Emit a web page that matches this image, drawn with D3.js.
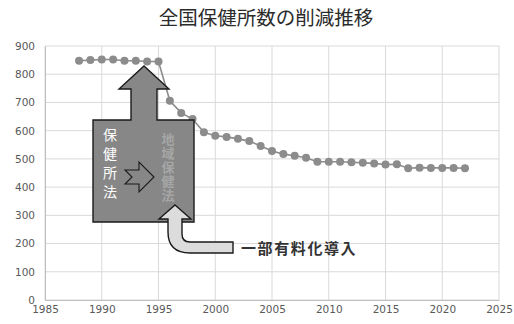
<!DOCTYPE html>
<html>
<head>
<meta charset="utf-8">
<script src="https://cdn.jsdelivr.net/npm/d3@7"></script>
<style>
  html, body { margin: 0; padding: 0; background: #fff; }
  svg text { font-family: "Noto Sans CJK JP", "Noto Sans", sans-serif; }
</style>
</head>
<body>
<svg id="chart" width="514" height="324"></svg>
<script>
// 全国の保健所数（年次）
const years = [1988, 1989, 1990, 1991, 1992, 1993, 1994, 1995, 1996, 1997,
               1998, 1999, 2000, 2001, 2002, 2003, 2004, 2005, 2006, 2007,
               2008, 2009, 2010, 2011, 2012, 2013, 2014, 2015, 2016, 2017,
               2018, 2019, 2020, 2021, 2022];
const counts = [848, 850, 852, 852, 848, 848, 845, 845, 706, 663,
                641, 594, 582, 578, 571, 563, 546, 528, 517, 511,
                504, 490, 490, 490, 488, 486, 484, 480, 481, 467,
                469, 468, 468, 468, 467];
const xTicks = [1985, 1990, 1995, 2000, 2005, 2010, 2015, 2020, 2025];
const yTicks = [0, 100, 200, 300, 400, 500, 600, 700, 800, 900];
const title = "全国保健所数の削減推移";
const oldLaw = "保健所法";
const newLaw = "地域保健法";
const feeNote = "一部有料化導入";

const svg = d3.select("#chart");
const W = 514, H = 324;
const m = { left: 45, right: 15, top: 46, bottom: 24 };

const x = d3.scaleLinear().domain([1985, 2025]).range([m.left, W - m.right]);
const y = d3.scaleLinear().domain([0, 900]).range([H - m.bottom, m.top]);

// title
svg.append("text")
  .attr("x", 266).attr("y", 25)
  .attr("text-anchor", "middle")
  .attr("font-size", 19.5)
  .attr("fill", "#2b2b2b")
  .text(title);

// gridlines
const grid = svg.append("g");
grid.selectAll("line.h").data(yTicks).join("line")
  .attr("x1", x(1985)).attr("x2", x(2025))
  .attr("y1", d => y(d)).attr("y2", d => y(d))
  .attr("stroke", "#d9d9d9").attr("stroke-width", 1);
grid.selectAll("line.v").data(xTicks).join("line")
  .attr("x1", d => x(d)).attr("x2", d => x(d))
  .attr("y1", y(0)).attr("y2", y(900))
  .attr("stroke", "#d9d9d9").attr("stroke-width", 1);

// axes
const yAxis = svg.append("g")
  .attr("transform", `translate(${x(1985)},0)`)
  .call(d3.axisLeft(y).tickValues(yTicks).tickSize(0).tickPadding(10));
const xAxis = svg.append("g")
  .attr("transform", `translate(0,${y(0)})`)
  .call(d3.axisBottom(x).tickValues(xTicks).tickFormat(d3.format("d")).tickSize(0).tickPadding(6));
[yAxis, xAxis].forEach(g => {
  g.select(".domain").attr("stroke", "#bfbfbf");
  g.selectAll("text")
    .attr("fill", "#595959")
    .style("font-family", "'DejaVu Sans', sans-serif")
    .style("font-size", "10.5px");
});

// series line + markers
const pts = years.map((yr, i) => [yr, counts[i]]);
svg.append("path")
  .datum(pts)
  .attr("fill", "none")
  .attr("stroke", "#8c8c8c")
  .attr("stroke-width", 1.6)
  .attr("d", d3.line().x(d => x(d[0])).y(d => y(d[1])));
svg.append("g").selectAll("circle").data(pts).join("circle")
  .attr("cx", d => x(d[0])).attr("cy", d => y(d[1]))
  .attr("r", 4)
  .attr("fill", "#8c8c8c");

// annotation: box with upward arrow (law in force)
const ann = svg.append("g");
ann.append("path")
  .attr("d", "M93,120 L131,120 L131,89 L119,89 L144,66 L169,89 L157,89 L157,120 L194,120 L194,222 L93,222 Z")
  .attr("fill", "#878787")
  .attr("stroke", "#1a1a1a")
  .attr("stroke-width", 1.4)
  .attr("stroke-linejoin", "miter");

// notched arrow between the two laws
ann.append("path")
  .attr("d", "M125,170 L139,170 L139,162 L154,177 L139,192 L139,184 L125,184 L132,177 Z")
  .attr("fill", "#878787")
  .attr("stroke", "#1a1a1a")
  .attr("stroke-width", 1.1);

// vertical law names
ann.append("text")
  .attr("x", 110).attr("y", 128)
  .style("writing-mode", "vertical-rl")
  .style("text-orientation", "upright")
  .attr("font-size", 14)
  .attr("letter-spacing", 5)
  .attr("fill", "#ffffff")
  .text(oldLaw);
ann.append("text")
  .attr("x", 168).attr("y", 133)
  .style("writing-mode", "vertical-rl")
  .style("text-orientation", "upright")
  .attr("font-size", 13)
  .attr("font-weight", "bold")
  .attr("letter-spacing", 1)
  .attr("fill", "#a6a6a6")
  .text(newLaw);

// bent arrow pointing up into the box
ann.append("path")
  .attr("d", "M175,205 L191,219 L182,219 L182,234 Q182,242 190,242 L233,242 L233,253 L190,253 Q168,253 168,232 L168,219 L159,219 Z")
  .attr("fill", "#dcdcdc")
  .attr("stroke", "#1a1a1a")
  .attr("stroke-width", 1.4)
  .attr("stroke-linejoin", "miter");

ann.append("text")
  .attr("x", 241).attr("y", 254)
  .attr("font-size", 15)
  .attr("font-weight", "bold")
  .attr("letter-spacing", 1.6)
  .attr("fill", "#333")
  .text(feeNote);
</script>
</body>
</html>
